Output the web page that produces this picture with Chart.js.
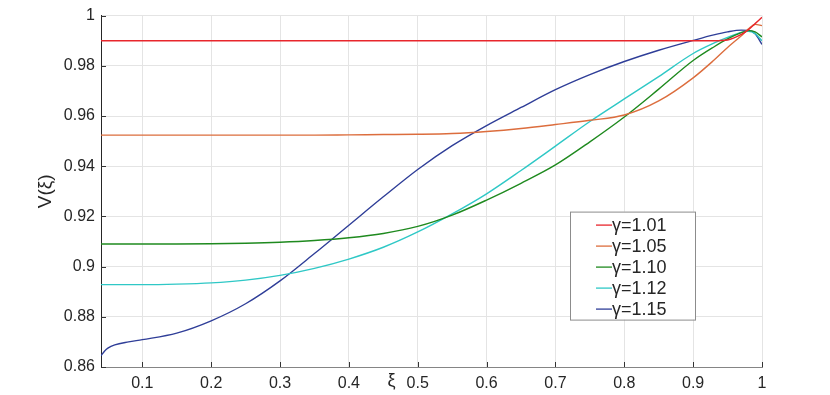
<!DOCTYPE html>
<html>
<head>
<meta charset="utf-8">
<script src="https://cdn.jsdelivr.net/npm/chart.js@4"></script>
<style>
  body { margin: 0; background: #fff; }
  #wrap { width: 830px; height: 395px; position: relative; }
</style>
</head>
<body>
<div id="wrap"><canvas id="chart"></canvas></div>
<script>
// ---- Datos ------------------------------------------------------------

const xi = [0.04, 0.045, 0.05, 0.06, 0.08, 0.1, 0.15, 0.2, 0.25, 0.3, 0.35, 0.4, 0.45, 0.5,
            0.55, 0.6, 0.65, 0.7, 0.75, 0.8, 0.85, 0.9, 0.93, 0.95, 0.97, 0.98, 0.99, 1.0];

const v101 = [0.99, 0.99, 0.99, 0.99, 0.99, 0.99, 0.99, 0.99, 0.99, 0.99, 0.99, 0.99, 0.99, 0.99,
              0.99, 0.99, 0.99, 0.99, 0.99, 0.99, 0.99, 0.99, 0.99, 0.9903, 0.9925, 0.9943, 0.9968, 0.9993];

const v105 = [0.9524, 0.9524, 0.9524, 0.9524, 0.9524, 0.9524, 0.9524, 0.9524, 0.9524, 0.9524, 0.9524, 0.9525, 0.9526, 0.9527,
              0.9530, 0.9538, 0.9550, 0.9566, 0.9583, 0.9604, 0.9660, 0.9752, 0.9822, 0.9873, 0.9920, 0.9946, 0.9965, 0.9960];

const v110 = [0.9090, 0.9090, 0.9090, 0.9090, 0.9090, 0.9090, 0.9090, 0.9091, 0.9093, 0.9097, 0.9104, 0.9115, 0.9132, 0.9160,
              0.9205, 0.9265, 0.9332, 0.9405, 0.9497, 0.9596, 0.9707, 0.9821, 0.9875, 0.9907, 0.9932, 0.9940, 0.9935, 0.9915];

const v112 = [0.8928, 0.8928, 0.8928, 0.8928, 0.8928, 0.8928, 0.8930, 0.8935, 0.8946, 0.8965, 0.8993, 0.9030, 0.9077, 0.9138,
              0.9210, 0.9290, 0.9383, 0.9480, 0.9578, 0.9668, 0.9757, 0.9849, 0.9890, 0.9913, 0.9933, 0.9937, 0.9928, 0.9900];

const v115 = [0.8645, 0.8663, 0.8675, 0.8688, 0.8700, 0.8709, 0.8735, 0.8784, 0.8852, 0.8943, 0.9052, 0.9165, 0.9278, 0.9387,
              0.9482, 0.9562, 0.9634, 0.9705, 0.9765, 0.9817, 0.9862, 0.9901, 0.9923, 0.9935, 0.9942, 0.9941, 0.9928, 0.9885];

const seriesLabels = ['γ=1.01', 'γ=1.05', 'γ=1.10', 'γ=1.12', 'γ=1.15'];
const seriesValues = [v101, v105, v110, v112, v115];
const seriesColors = ['#e8262c', '#dc6d3d', '#1f8a1f', '#2fc8c6', '#2f3e98'];

const xTicks = [0.1, 0.2, 0.3, 0.4, 0.5, 0.6, 0.7, 0.8, 0.9, 1];
const yTicks = [0.86, 0.88, 0.9, 0.92, 0.94, 0.96, 0.98, 1];

const FONT = "'Liberation Sans', Arial, Helvetica, sans-serif";
const TEXT = '#262626';

// ---- Decoración estilo MATLAB: ticks hacia dentro, ξ y leyenda ---------

const matlabDecor = {
    id: 'matlabDecor',
    afterDraw(chart) {
        const { ctx, chartArea: a, scales: { x, y } } = chart;
        ctx.save();

        // ticks interiores
        ctx.strokeStyle = '#333';
        ctx.lineWidth = 1;
        ctx.beginPath();
        xTicks.forEach(v => {
            const px = Math.round(x.getPixelForValue(v)) + 0.5;
            ctx.moveTo(px, a.bottom);
            ctx.lineTo(px, a.bottom - 5);
        });
        yTicks.forEach(v => {
            const py = Math.round(y.getPixelForValue(v)) + 0.5;
            ctx.moveTo(a.left, py);
            ctx.lineTo(a.left + 5, py);
        });
        ctx.stroke();

        // etiqueta ξ junto a los ticks
        ctx.fillStyle = TEXT;
        ctx.font = '18px ' + FONT;
        ctx.textAlign = 'center';
        ctx.textBaseline = 'middle';
        ctx.fillText('ξ', x.getPixelForValue(0.462), a.bottom + 14);

        // leyenda
        const bx = a.left + 469, by = a.top + 196, bw = 125, bh = 108;
        ctx.fillStyle = '#fff';
        ctx.fillRect(bx, by, bw, bh);
        ctx.strokeStyle = '#8c8c8c';
        ctx.strokeRect(bx + 0.5, by + 0.5, bw, bh);

        ctx.font = '18px ' + FONT;
        ctx.textAlign = 'left';
        seriesLabels.forEach((lbl, i) => {
            const ry = by + 13 + i * 21;
            ctx.strokeStyle = seriesColors[i];
            ctx.lineWidth = 1.3;
            ctx.beginPath();
            ctx.moveTo(bx + 26, ry + 0.5);
            ctx.lineTo(bx + 42, ry + 0.5);
            ctx.stroke();
            ctx.fillStyle = TEXT;
            ctx.fillText(lbl, bx + 42, ry + 1);
        });

        ctx.restore();
    }
};

// ---- Gráfica ----------------------------------------------------------

new Chart(document.getElementById('chart').getContext('2d'), {
    type: 'line',
    data: {
        datasets: seriesLabels.map((label, i) => ({
            label,
            data: xi.map((v, j) => ({ x: v, y: seriesValues[i][j] })),
            borderColor: seriesColors[i],
            borderWidth: 1.4,
            pointRadius: 0,
            cubicInterpolationMode: 'monotone',
            fill: false
        }))
    },
    options: {
        responsive: true,
        maintainAspectRatio: false,
        animation: false,
        layout: { padding: { left: 0, top: 11, right: 68, bottom: 0 } },
        plugins: {
            legend: { display: false },
            tooltip: { enabled: false }
        },
        scales: {
            x: {
                type: 'linear',
                min: 0.04,
                max: 1,
                afterBuildTicks: s => { s.ticks = xTicks.map(v => ({ value: v })); },
                afterFit: s => { s.height = 28; },
                grid: { color: '#e4e4e4', drawTicks: false },
                border: { color: '#858585' },
                ticks: {
                    padding: 7,
                    color: TEXT,
                    font: { family: FONT, size: 16 },
                    maxRotation: 0,
                    callback: v => String(Number(v.toFixed(2)))
                }
            },
            y: {
                min: 0.86,
                max: 1,
                afterBuildTicks: s => { s.ticks = yTicks.map(v => ({ value: v })); },
                afterFit: s => { s.width = 101; },
                grid: { color: '#e4e4e4', drawTicks: false },
                border: { color: '#262626' },
                ticks: {
                    padding: 6,
                    color: TEXT,
                    font: { family: FONT, size: 16 },
                    callback: v => String(Number(v.toFixed(2)))
                },
                title: {
                    display: true,
                    text: 'V(ξ)',
                    color: TEXT,
                    font: { family: FONT, size: 19 },
                    padding: { top: 34, bottom: 0 }
                }
            }
        }
    },
    plugins: [matlabDecor]
});
</script>
</body>
</html>
